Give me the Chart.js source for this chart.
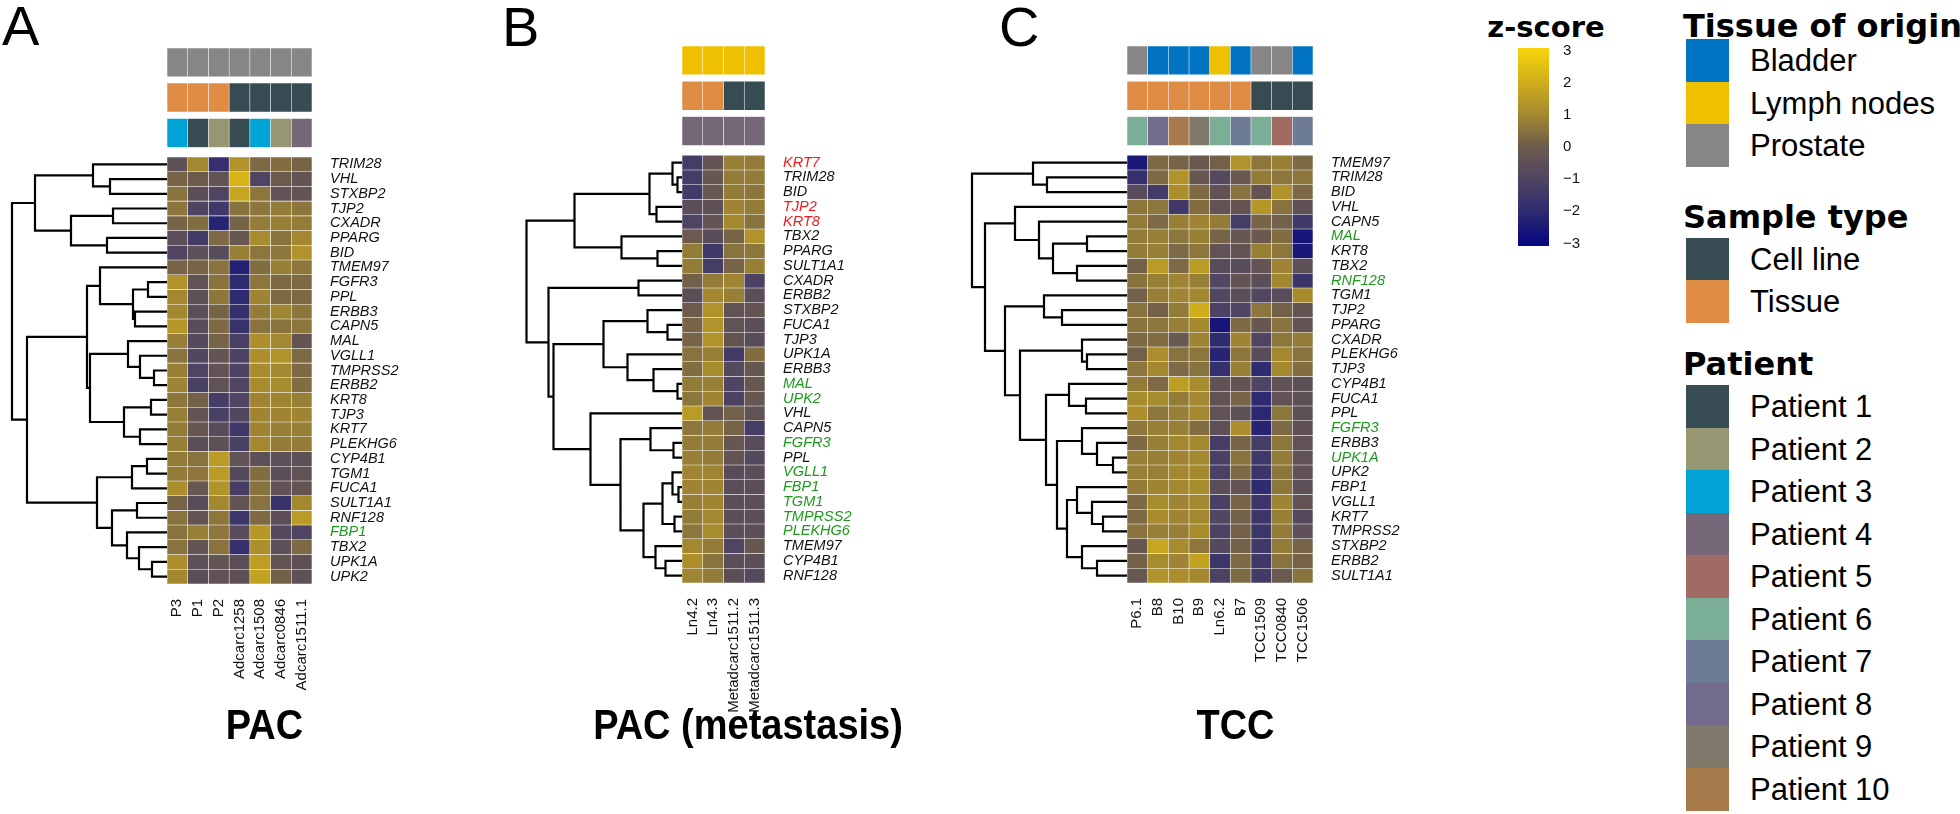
<!DOCTYPE html>
<html><head><meta charset="utf-8">
<script src="https://cdn.jsdelivr.net/npm/chart.js@4.4.1/dist/chart.umd.min.js"></script>
<style>
html,body{margin:0;padding:0;background:#fff;}
body{width:1960px;height:814px;position:relative;overflow:hidden;font-family:'Liberation Sans',Arial,Helvetica,sans-serif;color:#000;}
.abs{position:absolute;}
.letter{position:absolute;font-size:56px;line-height:1;}
.ptitle{position:absolute;font-size:38px;font-weight:bold;line-height:1;white-space:nowrap;transform:translateX(-50%) scaleY(1.12);}
.ltitle{position:absolute;font-family:'DejaVu Sans',sans-serif;font-weight:bold;font-size:32px;line-height:1;white-space:nowrap;}
.sw{position:absolute;width:43px;}
.lab{position:absolute;font-size:31px;line-height:1;white-space:nowrap;}
canvas{display:block;}
</style></head><body>
<script>
// ---------------- DATA ----------------
const genesA = ['TRIM28','VHL','STXBP2','TJP2','CXADR','PPARG','BID','TMEM97','FGFR3','PPL','ERBB3','CAPN5','MAL','VGLL1','TMPRSS2','ERBB2','KRT8','TJP3','KRT7','PLEKHG6','CYP4B1','TGM1','FUCA1','SULT1A1','RNF128','FBP1','TBX2','UPK1A','UPK2'];
const samplesA = ['P3','P1','P2','Adcarc1258','Adcarc1508','Adcarc0846','Adcarc1511.1'];
const tissueA = ['Prostate','Prostate','Prostate','Prostate','Prostate','Prostate','Prostate'];
const typeA = ['Tissue','Tissue','Tissue','Cell line','Cell line','Cell line','Cell line'];
const patientA = ['Patient 3','Patient 1','Patient 2','Patient 1','Patient 3','Patient 2','Patient 4'];
const redA = [];
const greenA = ['FBP1'];
const zA = [
 [-0.5, 1.0,-1.8, 1.3, 0.3, 0.4, 0.2],
 [ 0.2, 0.0,-0.3, 2.2,-1.0, 0.0,-0.3],
 [ 0.5,-0.6,-1.0, 1.8, 0.6,-0.4,-0.3],
 [ 0.6,-1.0,-1.5, 0.5, 0.6, 0.7, 0.6],
 [ 0.2, 0.4,-2.2, 0.2, 0.7, 0.8, 0.7],
 [-0.6,-1.4, 0.3,-0.2, 1.1, 0.5, 1.0],
 [-1.0,-0.5,-0.7, 0.8, 0.6, 0.6, 1.3],
 [ 0.2, 0.2, 0.5,-2.3, 0.4, 0.8, 0.6],
 [ 1.3,-0.4, 0.5,-2.0, 0.6, 0.3, 0.3],
 [ 1.0,-0.5, 0.6,-2.0, 0.9, 0.3, 0.3],
 [ 1.0,-0.6, 0.2,-1.8, 0.7, 0.9, 0.6],
 [ 1.4,-0.7, 0.3,-1.7, 0.5, 0.5, 0.6],
 [ 0.8,-0.8, 0.2,-1.2, 1.2, 1.0,-0.3],
 [ 0.5,-0.9,-0.3,-1.1, 1.2, 1.3, 0.3],
 [ 0.8,-1.0,-0.4,-1.1, 1.1, 1.0, 0.3],
 [ 0.9,-1.2,-0.4,-1.0, 1.1, 1.1, 0.4],
 [ 0.6, 0.1,-1.3,-1.0, 0.9, 0.9, 0.8],
 [ 0.8,-0.3,-1.2,-0.9, 0.9, 0.9, 0.9],
 [ 0.7,-0.2,-0.7,-1.5, 0.9, 0.8, 0.8],
 [ 0.8,-0.6,-0.5,-1.2, 1.0, 0.7, 0.7],
 [ 0.7, 0.5, 1.5,-0.4,-0.5,-0.5,-0.5],
 [ 0.7, 0.6, 1.5,-0.8, 0.4,-0.6,-0.4],
 [ 1.2,-0.2, 1.3,-1.3, 0.5,-0.4,-0.3],
 [ 0.2,-0.7, 1.0,-0.3, 0.5,-1.7, 1.0],
 [ 0.5,-0.3, 0.6,-1.6, 0.3,-0.6, 1.5],
 [ 0.5, 0.8, 0.6,-0.7, 1.4,-0.8,-1.0],
 [ 0.5,-0.3, 0.5,-1.8, 1.2,-0.5, 0.3],
 [ 1.2,-0.5,-0.3,-0.6, 1.6,-0.3,-0.5],
 [ 1.0,-0.6,-0.4,-0.5, 1.7, 0.1,-0.5]
];
// dendrogram: [mergeHeight, left, right]; leaves are row indices
const treeA = [155,
  [132, [74, 0, [57, 1, 2]], [96, [54, 3, 4], [60, 5, 6]]],
  [140,
    [80, [67, 7, [34, [19, 8, 9], [32, 10, 11]]],
         [77, [39, 12, [27, 13, [13, 14, 15]]], [43, [16, 16, 17], [27, 18, 19]]]],
    [70, [35, [20, 20, 21], 22], [55, [30, 23, 24], [40, 25, [28, 26, [15, 27, 28]]]]]]];

const genesB = ['KRT7','TRIM28','BID','TJP2','KRT8','TBX2','PPARG','SULT1A1','CXADR','ERBB2','STXBP2','FUCA1','TJP3','UPK1A','ERBB3','MAL','UPK2','VHL','CAPN5','FGFR3','PPL','VGLL1','FBP1','TGM1','TMPRSS2','PLEKHG6','TMEM97','CYP4B1','RNF128'];
const samplesB = ['Ln4.2','Ln4.3','Metadcarc1511.2','Metadcarc1511.3'];
const tissueB = ['Lymph nodes','Lymph nodes','Lymph nodes','Lymph nodes'];
const typeB = ['Tissue','Tissue','Cell line','Cell line'];
const patientB = ['Patient 4','Patient 4','Patient 4','Patient 4'];
const redB = ['KRT7','TJP2','KRT8'];
const greenB = ['MAL','UPK2','FGFR3','VGLL1','FBP1','TGM1','TMPRSS2','PLEKHG6'];
const zB = [
 [-1.3,-0.3, 0.8, 0.7],
 [-1.3,-0.2, 0.7, 0.7],
 [-1.4,-0.2, 0.7, 0.6],
 [-0.6,-0.5, 0.9, 0.7],
 [-1.0,-0.3, 1.0, 0.5],
 [ 0.0,-0.7, 0.2, 1.3],
 [ 0.7,-1.5, 0.5, 0.6],
 [ 0.7,-1.3, 0.2, 0.8],
 [ 0.1, 0.7, 0.9,-1.1],
 [-0.6, 1.0, 0.8,-0.6],
 [ 0.0, 1.3,-0.4,-0.3],
 [ 0.2, 1.3,-0.4,-0.6],
 [ 0.2, 1.3,-0.3,-0.7],
 [ 0.5, 0.8,-1.4, 0.4],
 [ 0.4, 1.1,-0.8,-0.2],
 [ 0.7, 0.8,-1.0,-0.2],
 [ 0.6, 0.9,-1.1,-0.2],
 [ 1.5,-0.3, 0.1,-0.4],
 [ 0.6, 0.7, 0.2,-1.3],
 [ 0.7, 0.7,-0.2,-0.7],
 [ 0.8, 0.7,-0.3,-0.8],
 [ 0.9, 0.9,-0.7,-0.6],
 [ 0.9, 0.9,-0.6,-0.6],
 [ 0.8, 0.9,-0.6,-0.6],
 [ 0.7, 1.0,-0.6,-0.6],
 [ 0.6, 1.1,-0.6,-0.6],
 [ 1.0, 0.7,-1.0,-0.2],
 [ 1.2, 0.5,-0.6,-0.6],
 [ 0.9, 0.7,-0.6,-0.8]
];
const treeB = [155.5,
  [107.5, [32.5, [9.5, 0, [4.5, 1, 2]], [25.5, 3, 4]], [60.5, 5, [24.5, 6, 7]]],
  [133.5, [43.5, 8, 9],
    [128.5,
      [78.5, [34.5, 10, [14.5, 11, 12]], [54.5, 13, [28.5, 14, [4.5, 15, 16]]]],
      [91.5, 17,
        [61.5, [31.5, 18, [8.5, 19, 20]],
          [38.5, [19.5, [9.5, 21, [3.5, 22, 23]], [7.5, 24, 25]], [26.5, 26, [16.5, 27, 28]]]]]]]];

const genesC = ['TMEM97','TRIM28','BID','VHL','CAPN5','MAL','KRT8','TBX2','RNF128','TGM1','TJP2','PPARG','CXADR','PLEKHG6','TJP3','CYP4B1','FUCA1','PPL','FGFR3','ERBB3','UPK1A','UPK2','FBP1','VGLL1','KRT7','TMPRSS2','STXBP2','ERBB2','SULT1A1'];
const samplesC = ['P6.1','B8','B10','B9','Ln6.2','B7','TCC1509','TCC0840','TCC1506'];
const tissueC = ['Prostate','Bladder','Bladder','Bladder','Lymph nodes','Bladder','Prostate','Prostate','Bladder'];
const typeC = ['Tissue','Tissue','Tissue','Tissue','Tissue','Tissue','Cell line','Cell line','Cell line'];
const patientC = ['Patient 6','Patient 8','Patient 10','Patient 9','Patient 6','Patient 7','Patient 6','Patient 5','Patient 7'];
const redC = [];
const greenC = ['MAL','RNF128','FGFR3','UPK1A'];
const zC = [
 [-2.5, 0.3, 0.2,-0.1, 0.1, 1.3, 0.6, 0.8, 0.3],
 [-1.8, 0.3, 1.3,-0.2,-0.8,-0.1, 0.7, 0.6, 0.6],
 [-0.7,-1.4, 1.2, 0.3,-0.4, 0.5,-0.3, 1.3, 0.3],
 [ 0.6, 0.6,-1.5, 0.4,-0.3,-0.3, 1.4, 0.5,-0.5],
 [ 0.7, 0.3, 0.8, 0.9, 0.7,-1.3, 0.2, 0.1,-1.5],
 [ 0.7, 0.8, 0.6, 0.8, 0.2,-0.2,-0.1, 0.4,-2.6],
 [ 0.7, 0.8, 0.3, 0.6,-0.4,-0.3, 0.8, 0.6,-2.5],
 [ 0.1, 1.5, 0.3, 1.5,-0.7,-0.7,-0.3, 0.9,-0.5],
 [ 0.5, 0.8, 0.9, 0.8,-0.9,-0.3,-0.6, 1.0,-1.6],
 [ 0.1, 0.8, 0.9, 1.0,-0.9,-0.6,-0.9,-0.7, 1.1],
 [ 0.5, 0.1, 0.7, 2.0,-1.1,-1.0, 0.6, 0.1,-0.3],
 [ 0.5, 0.6, 0.8, 1.0,-2.6, 0.3,-0.2, 0.5,-0.3],
 [ 0.3, 0.4,-0.1, 0.9,-2.0, 0.9,-1.0, 0.6, 0.7],
 [ 0.1, 1.2, 0.5, 0.6,-2.2, 0.6,-0.7, 1.0, 0.5],
 [ 0.6, 1.0, 0.3, 0.5,-1.8, 0.8,-2.0, 1.0, 0.4],
 [ 0.7, 0.3, 1.6, 1.1,-0.4,-0.3,-1.0,-0.4,-0.5],
 [ 1.1, 1.1, 0.7, 1.0,-0.4, 0.2,-2.0,-0.4,-0.5],
 [ 1.2, 0.6, 0.8, 1.0,-0.4,-0.5,-2.1, 0.6,-0.5],
 [ 0.6, 0.8, 0.8, 0.4,-0.5, 1.2,-2.2, 0.3,-0.5],
 [ 0.3, 0.8, 1.0, 1.0,-1.3, 0.2,-1.3, 0.6,-0.4],
 [ 0.8, 0.8, 0.9, 1.0,-1.2, 0.5,-1.5, 0.7,-0.4],
 [ 0.8, 0.8, 1.0, 1.0,-1.2, 0.3,-1.6, 0.6,-0.4],
 [ 0.7, 0.9, 1.0, 1.1,-0.6,-0.3,-2.0, 0.6,-0.5],
 [ 0.3, 1.1, 0.9, 1.0,-1.2, 0.2,-1.6, 0.9,-0.3],
 [ 0.3, 1.1, 0.9, 1.0,-0.9, 0.1,-1.6, 0.8,-0.8],
 [ 0.5, 0.8, 0.8, 1.1,-1.1, 0.1,-1.6, 0.7,-0.5],
 [-0.2, 1.8, 1.1, 0.6,-0.8, 0.1,-1.5, 0.7, 0.2],
 [ 0.1, 1.1, 0.9, 1.7,-1.6, 0.3,-1.5, 0.5, 0.2],
 [-0.2, 1.3, 1.2, 1.0,-1.1, 0.3,-1.4,-0.1, 0.5]
];
const treeC = [155,
  [94, 0, [80, 1, 2]],
  [142,
    [112, 3, [88, 4, [74, [40, 5, 6], [50, 7, 8]]]],
    [122, [83, 9, [65, 10, 11]],
      [107, [45, 12, [40, 13, 14]],
        [81, [58, 15, [41, 16, 17]],
          [70, [45, 18, [30, 19, [14, 20, 21]]],
               [60, [50, 22, [35, 23, [24, 24, 25]]], [45, 26, [30, 27, 28]]]]]]]]];

const tissueLevels = ['Bladder','Lymph nodes','Prostate'];
const tissueColors = ['#0073c2','#efc000','#868686'];
const typeLevels = ['Cell line','Tissue'];
const typeColors = ['#374b52','#df8c44'];
const patientLevels = ['Patient 1','Patient 2','Patient 3','Patient 4','Patient 5','Patient 6','Patient 7','Patient 8','Patient 9','Patient 10'];
const patientColors = ['#384c53','#979673','#00a3d5','#766778','#a06b63','#7aae96','#6e7b97','#726b8b','#817a6c','#a67a4a'];
const zTicks = [3,2,1,0,-1,-2,-3];
const zStops = [-3,-2,-1,0,1,2,3];
const zStopColors = ['#07077f','#2f2b70','#4f4562','#6c5b4c','#a38830','#cfad1b','#f5d20b'];

// ---------------- HELPERS ----------------
const FONT = "'Liberation Sans', Arial, sans-serif";
function hex(c){return [parseInt(c.slice(1,3),16),parseInt(c.slice(3,5),16),parseInt(c.slice(5,7),16)];}
function zColor(v){
  v = Math.max(zStops[0], Math.min(zStops[zStops.length-1], v));
  for(let i=0;i<zStops.length-1;i++){
    if(v<=zStops[i+1]){
      const t=(v-zStops[i])/(zStops[i+1]-zStops[i]);
      const a=hex(zStopColors[i]), b=hex(zStopColors[i+1]);
      return 'rgb('+a.map((x,k)=>Math.round(x+(b[k]-x)*t)).join(',')+')';
    }
  }
  return zStopColors[zStopColors.length-1];
}
function lookup(levels, colors){ return v => colors[levels.indexOf(v)]; }
function box(left, top, w, h){
  const d=document.createElement('div'); d.className='abs';
  d.style.left=left+'px'; d.style.top=top+'px'; d.style.width=w+'px'; d.style.height=h+'px';
  const c=document.createElement('canvas'); c.width=Math.round(w); c.height=Math.round(h);
  c.style.width=Math.round(w)+'px'; c.style.height=Math.round(h)+'px';
  d.appendChild(c); document.body.appendChild(d); return c;
}
function text(cls, str, left, top, style){
  const d=document.createElement('div'); d.className=cls; d.textContent=str;
  d.style.left=left+'px'; d.style.top=top+'px';
  if(style) Object.assign(d.style, style);
  document.body.appendChild(d); return d;
}
function treeSegments(tree){
  const pts=[];
  function walk(n){
    if(typeof n==='number') return {y:n+0.5,h:0};
    const A=walk(n[1]), B=walk(n[2]), h=n[0];
    pts.push({x:A.h,y:A.y},{x:h,y:A.y},{x:h,y:B.y},{x:B.h,y:B.y},{x:h,y:null});
    return {y:(A.y+B.y)/2,h:h};
  }
  walk(tree); return pts;
}

// ---------------- LAYOUT (styles/positions) ----------------
const ANNO = {tissue:[-7.4,-5.45], type:[-5.02,-3.05], patient:[-2.62,-0.65]};
const ANNO_TOP = 7.4;
const YW = 120, XH = 130, DW = 160;

function panel(cfg){
  const n = cfg.genes.length;
  const rowH = (cfg.hmBottom-cfg.hmTop)/n;
  const areaTop = cfg.hmTop - ANNO_TOP*rowH;
  const areaH = (n+ANNO_TOP)*rowH;
  const cellsW = cfg.samples.length*cfg.cellW;

  const dc = box(cfg.left-DW, areaTop, DW, areaH);
  new Chart(dc, {
    type:'scatter',
    data:{datasets:[{data:treeSegments(cfg.tree), showLine:true, spanGaps:false, borderColor:'#000', borderWidth:2.2, pointRadius:0, tension:0, clip:false}]},
    options:{responsive:false, animation:false, events:[],
      plugins:{legend:{display:false}, tooltip:{enabled:false}},
      layout:{padding:0},
      scales:{
        x:{type:'linear', min:0, max:DW, reverse:true, display:false},
        y:{type:'linear', min:-ANNO_TOP, max:n, reverse:true, display:false}
      }}
  });

  const datasets=[];
  cfg.genes.forEach((g,i)=>{
    datasets.push({data:cfg.samples.map(()=>[i,i+1]), backgroundColor:cfg.z[i].map(zColor)});
  });
  const tc=lookup(tissueLevels,tissueColors), sc=lookup(typeLevels,typeColors), pc=lookup(patientLevels,patientColors);
  datasets.push({data:cfg.samples.map(()=>ANNO.tissue), backgroundColor:cfg.tissue.map(tc)});
  datasets.push({data:cfg.samples.map(()=>ANNO.type), backgroundColor:cfg.type.map(sc)});
  datasets.push({data:cfg.samples.map(()=>ANNO.patient), backgroundColor:cfg.patient.map(pc)});

  const hc = box(cfg.left, areaTop, cellsW+YW, areaH+XH);
  const genes=cfg.genes;
  new Chart(hc, {
    type:'bar',
    data:{labels:cfg.samples, datasets:datasets},
    options:{responsive:false, animation:false, events:[],
      plugins:{legend:{display:false}, tooltip:{enabled:false}},
      layout:{padding:0},
      datasets:{bar:{grouped:false, barPercentage:1, categoryPercentage:1, borderWidth:0.6, borderColor:'rgba(255,255,255,0.12)', borderSkipped:false}},
      scales:{
        x:{type:'category', position:'bottom', grid:{display:false}, border:{display:false},
           ticks:{autoSkip:false, minRotation:90, maxRotation:90, padding:7, color:'#111', font:{family:FONT, size:15}},
           afterFit(s){ s.height=XH; s.paddingLeft=0; s.paddingRight=0; s.paddingTop=0; s.paddingBottom=0; }},
        y:{type:'linear', position:'right', min:-ANNO_TOP, max:n, reverse:true, grid:{display:false}, border:{display:false},
           afterBuildTicks(s){ s.ticks = genes.map((g,i)=>({value:i+0.5})); },
           ticks:{autoSkip:false, padding:10, font:{family:FONT, size:14.5, style:'italic'},
             callback:(v,i)=>genes[i],
             color:(c)=>{const g=genes[c.index]; return cfg.red.includes(g)?'#ee1c1c':(cfg.green.includes(g)?'#1c9a1c':'#111');}},
           afterFit(s){ s.width=YW; s.paddingTop=0; s.paddingBottom=0; s.paddingLeft=0; s.paddingRight=0; }}
      }}
  });
}

panel({left:167, hmTop:157, hmBottom:584, cellW:145/7, genes:genesA, samples:samplesA, z:zA, tree:treeA, tissue:tissueA, type:typeA, patient:patientA, red:redA, green:greenA});
panel({left:681.5, hmTop:155, hmBottom:583, cellW:82.5/4, genes:genesB, samples:samplesB, z:zB, tree:treeB, tissue:tissueB, type:typeB, patient:patientB, red:redB, green:greenB});
panel({left:1127, hmTop:155, hmBottom:583, cellW:186/9, genes:genesC, samples:samplesC, z:zC, tree:treeC, tissue:tissueC, type:typeC, patient:patientC, red:redC, green:greenC});

text('letter','A',2,-2);
text('letter','B',502,-1);
text('letter','C',999,-1);
text('ptitle','PAC',264.5,705);
text('ptitle','PAC (metastasis)',748,705);
text('ptitle','TCC',1235.5,705);

// ---------------- COLORBAR ----------------
text('ltitle','z-score',1546,13,{fontSize:29+'px',transform:'translateX(-50%)'});
const cb = box(1518, 38, 90, 218);
new Chart(cb, {
  type:'bar',
  data:{labels:[''], datasets:[{data:[[zStops[0]-0.08, zStops[zStops.length-1]+0.08]],
    backgroundColor:(c)=>{
      const ch=c.chart, a=ch.chartArea; if(!a) return '#6c5b4c';
      const ys=ch.scales.y;
      const g=ch.ctx.createLinearGradient(0, ys.getPixelForValue(zStops[0]), 0, ys.getPixelForValue(zStops[zStops.length-1]));
      zStops.forEach((v,i)=>g.addColorStop(i/(zStops.length-1), zStopColors[i]));
      return g;
    }, borderWidth:0, barPercentage:1, categoryPercentage:1}]},
  options:{responsive:false, animation:false, events:[],
    plugins:{legend:{display:false}, tooltip:{enabled:false}},
    layout:{padding:{top:10,bottom:10}},
    scales:{
      x:{display:false},
      y:{position:'right', min:-3.08, max:3.08, grid:{display:false}, border:{display:false},
         afterBuildTicks(s){ s.ticks = zTicks.map(v=>({value:v})); },
         ticks:{padding:6, color:'#111', font:{family:FONT, size:15}, callback:(v)=> v<0 ? '\u2212'+Math.abs(v) : String(v)},
         afterFit(s){ s.width=59; s.paddingTop=0; s.paddingBottom=0; }}
    }}
});

// ---------------- CATEGORICAL LEGEND ----------------
function legendGroup(title, titleBaseline, levels, colors, boxTop, boxH){
  text('ltitle', title, 1683, titleBaseline-27);
  levels.forEach((lv,i)=>{
    const d=document.createElement('div'); d.className='sw';
    d.style.left='1686px'; d.style.top=(boxTop+i*boxH)+'px'; d.style.height=(boxH+0.5)+'px'; d.style.background=colors[i];
    document.body.appendChild(d);
    text('lab', lv, 1750, boxTop+i*boxH+boxH/2-15.2);
  });
}
legendGroup('Tissue of origin', 37, tissueLevels, tissueColors, 39, 42.5);
legendGroup('Sample type', 228, typeLevels, typeColors, 238, 42);
legendGroup('Patient', 375, patientLevels, patientColors, 385, 42.5);
</script>
</body></html>
